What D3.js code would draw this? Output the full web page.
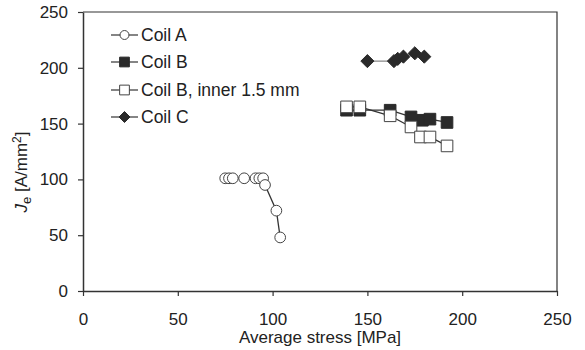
<!DOCTYPE html>
<html>
<head>
<meta charset="utf-8">
<script src="https://cdn.jsdelivr.net/npm/d3@7"></script>
<style>
  body { margin: 0; background: #fff; }
  text { font-family: 'Liberation Sans', Arial, sans-serif; fill: #222; }
</style>
</head>
<body>
<div id="chart"></div>
<script>
const width = 585
const height = 350
const margin = { top: 12, left: 83, right: 28, bottom: 59 }

// data: [stress MPa, Je A/mm2]
const coilA = [[75, 101], [77, 101], [79, 101], [85, 101], [91, 101], [93, 101], [95, 101], [96, 95], [102, 72], [104, 48]]
const coilB = [[139, 162], [146, 162], [162, 162], [173, 156], [179, 153], [183, 154], [192, 151]]
const coilBInner = [[139, 165], [146, 165], [162, 157], [173, 147], [178, 138], [183, 138], [192, 130]]
const coilC = [[150, 206], [164, 206], [166, 208], [169, 210], [175, 213], [180, 210]]

const seriesNames = ['Coil A', 'Coil B', 'Coil B, inner 1.5 mm', 'Coil C']
const xTicks = [0, 50, 100, 150, 200, 250]
const yTicks = [0, 50, 100, 150, 200, 250]

const series = [
  { name: seriesNames[0], data: coilA, symbol: d3.symbolCircle, size: 90, fill: '#fff', line: '#333' },
  { name: seriesNames[1], data: coilB, symbol: d3.symbolSquare, size: 135, fill: '#2a2a2a', line: '#333' },
  { name: seriesNames[2], data: coilBInner, symbol: d3.symbolSquare, size: 135, fill: '#fff', line: '#333' },
  { name: seriesNames[3], data: coilC, symbol: d3.symbolDiamond2, size: 110, fill: '#2a2a2a', line: '#888' }
]

const svg = d3.select('#chart').append('svg')
  .attr('width', width)
  .attr('height', height)

const x = d3.scaleLinear().domain([0, 250]).range([margin.left, width - margin.right])
const y = d3.scaleLinear().domain([0, 250]).range([height - margin.bottom, margin.top])

// frame (top and right lines)
svg.append('path')
  .attr('d', `M${x(0)},${y(250)}H${x(250)}V${y(0)}`)
  .attr('fill', 'none')
  .attr('stroke', '#333')
  .attr('stroke-width', 1.2)

const xAxis = svg.append('g')
  .attr('transform', `translate(0,${y(0)})`)
  .call(d3.axisBottom(x).tickValues(xTicks).tickSize(5).tickPadding(17).tickSizeOuter(0))
const yAxis = svg.append('g')
  .attr('transform', `translate(${x(0)},0)`)
  .call(d3.axisLeft(y).tickValues(yTicks).tickSize(5).tickPadding(10).tickSizeOuter(0))

;[xAxis, yAxis].forEach(a => {
  a.select('.domain').attr('stroke', '#333').attr('stroke-width', 1.5)
  a.selectAll('.tick line').attr('stroke', '#333').attr('stroke-width', 1.2)
  a.selectAll('.tick text').style('font-size', '17px').attr('fill', '#222')
})

// axis titles
svg.append('text')
  .attr('x', 320)
  .attr('y', 343)
  .attr('text-anchor', 'middle')
  .style('font-size', '17px')
  .text('Average stress [MPa]')

const yt = svg.append('text')
  .attr('transform', 'translate(27,172) rotate(-90)')
  .attr('text-anchor', 'middle')
  .style('font-size', '17px')
yt.append('tspan').attr('font-style', 'italic').text('J')
yt.append('tspan').attr('dy', 4).style('font-size', '13px').text('e')
yt.append('tspan').attr('dy', -4).text(' [A/mm')
yt.append('tspan').attr('dy', -6).style('font-size', '12px').text('2')
yt.append('tspan').attr('dy', 6).text(']')

const line = d3.line().x(d => x(d[0])).y(d => y(d[1]))

series.forEach(s => {
  svg.append('path')
    .datum(s.data)
    .attr('d', line)
    .attr('fill', 'none')
    .attr('stroke', s.line)
    .attr('stroke-width', 1.3)

  svg.append('g')
    .selectAll('path')
    .data(s.data)
    .join('path')
    .attr('transform', d => `translate(${x(d[0])},${y(d[1])})`)
    .attr('d', d3.symbol().type(s.symbol).size(s.size))
    .attr('fill', s.fill)
    .attr('stroke', s.fill === '#fff' ? '#444' : '#2a2a2a')
    .attr('stroke-width', 1)
})

// legend
const legend = svg.append('g')
const rowY = [35, 62, 90, 117]
series.forEach((s, i) => {
  const g = legend.append('g').attr('transform', `translate(0,${rowY[i]})`)
  g.append('line')
    .attr('x1', 111).attr('x2', 138)
    .attr('stroke', '#333')
    .attr('stroke-width', 1.2)
  g.append('path')
    .attr('transform', 'translate(124.5,0)')
    .attr('d', d3.symbol().type(s.symbol).size(s.size * 0.7))
    .attr('fill', s.fill)
    .attr('stroke', s.fill === '#fff' ? '#444' : '#2a2a2a')
  g.append('text')
    .attr('x', 141)
    .attr('dy', '0.35em')
    .style('font-size', '17.5px')
    .text(s.name)
})
</script>
</body>
</html>
